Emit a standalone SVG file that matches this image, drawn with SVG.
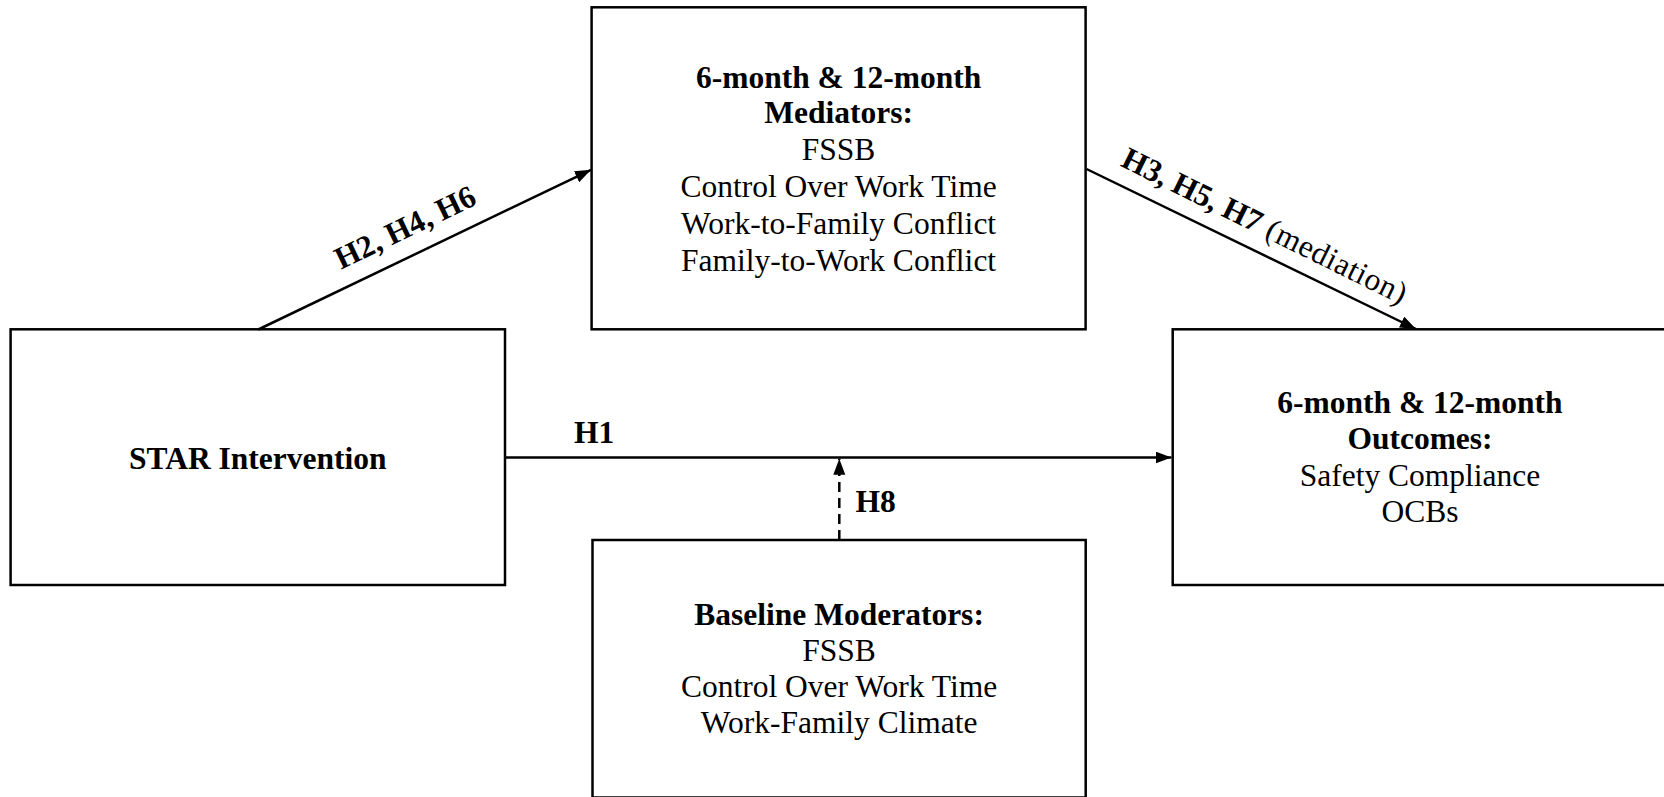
<svg xmlns="http://www.w3.org/2000/svg" width="1664" height="797" viewBox="0 0 1664 797">
<defs>
<style>
.box{fill:#fff;stroke:#000;stroke-width:2.5}
.t{font-family:"Liberation Serif","Times New Roman",serif;font-size:31.5px;fill:#000;text-anchor:middle}
.b{font-weight:bold}
.conn{stroke:#000;stroke-width:2.5;fill:none}
.dash{stroke-dasharray:10 6}
</style>
<marker id="arr" markerUnits="userSpaceOnUse" markerWidth="17" markerHeight="13" refX="16" refY="6" orient="auto">
<path d="M0,0 L16,6 L0,12 z" fill="#000"/>
</marker>
</defs>
<rect width="1664" height="797" fill="#fff"/>
<g id="star">
<rect class="box" x="10.6" y="329.3" width="494.4" height="255.7"/>
<text class="t b" x="257.8" y="469.3">STAR Intervention</text>
</g>
<g id="mediators">
<rect class="box" x="591.6" y="7.3" width="494" height="322"/>
<text class="t b" x="838.6" y="87.7">6-month &amp; 12-month</text>
<text class="t b" x="838.6" y="123.3">Mediators:</text>
<text class="t" x="838.6" y="160">FSSB</text>
<text class="t" x="838.6" y="197.3">Control Over Work Time</text>
<text class="t" x="838.6" y="234">Work-to-Family Conflict</text>
<text class="t" x="838.6" y="270.7">Family-to-Work Conflict</text>
</g>
<g id="outcomes">
<rect class="box" x="1172.7" y="329.3" width="494.4" height="255.7"/>
<text class="t b" x="1420" y="413.3">6-month &amp; 12-month</text>
<text class="t b" x="1420" y="449.3">Outcomes:</text>
<text class="t" x="1420" y="485.7">Safety Compliance</text>
<text class="t" x="1420" y="522.3">OCBs</text>
</g>
<g id="moderators">
<rect class="box" x="592.5" y="540" width="493.2" height="257.5"/>
<text class="t b" x="839.1" y="625">Baseline Moderators:</text>
<text class="t" x="839.1" y="660.7">FSSB</text>
<text class="t" x="839.1" y="696.7">Control Over Work Time</text>
<text class="t" x="839.1" y="733.3">Work-Family Climate</text>
</g>
<g id="connectors">
<line class="conn" x1="258.3" y1="329.5" x2="591" y2="169.8" marker-end="url(#arr)"/>
<line class="conn" x1="1086.5" y1="169" x2="1416" y2="329" marker-end="url(#arr)"/>
<line class="conn" x1="505" y1="457.5" x2="1171.5" y2="457.5" marker-end="url(#arr)"/>
<line class="conn dash" x1="839.3" y1="540" x2="839.3" y2="458.8" marker-end="url(#arr)"/>
<text class="t b" transform="translate(409.6,236.8) rotate(-25.7)">H2, H4, H6</text>
<text class="t" style="text-anchor:start" transform="translate(1119.5,165.6) rotate(26.3)"><tspan class="b">H3, H5, H7</tspan><tspan letter-spacing="0.6"> (mediation)</tspan></text>
<text class="t b" style="text-anchor:start" x="574" y="443.3">H1</text>
<text class="t b" style="text-anchor:start" x="855.5" y="512.3">H8</text>
</g>
</svg>
